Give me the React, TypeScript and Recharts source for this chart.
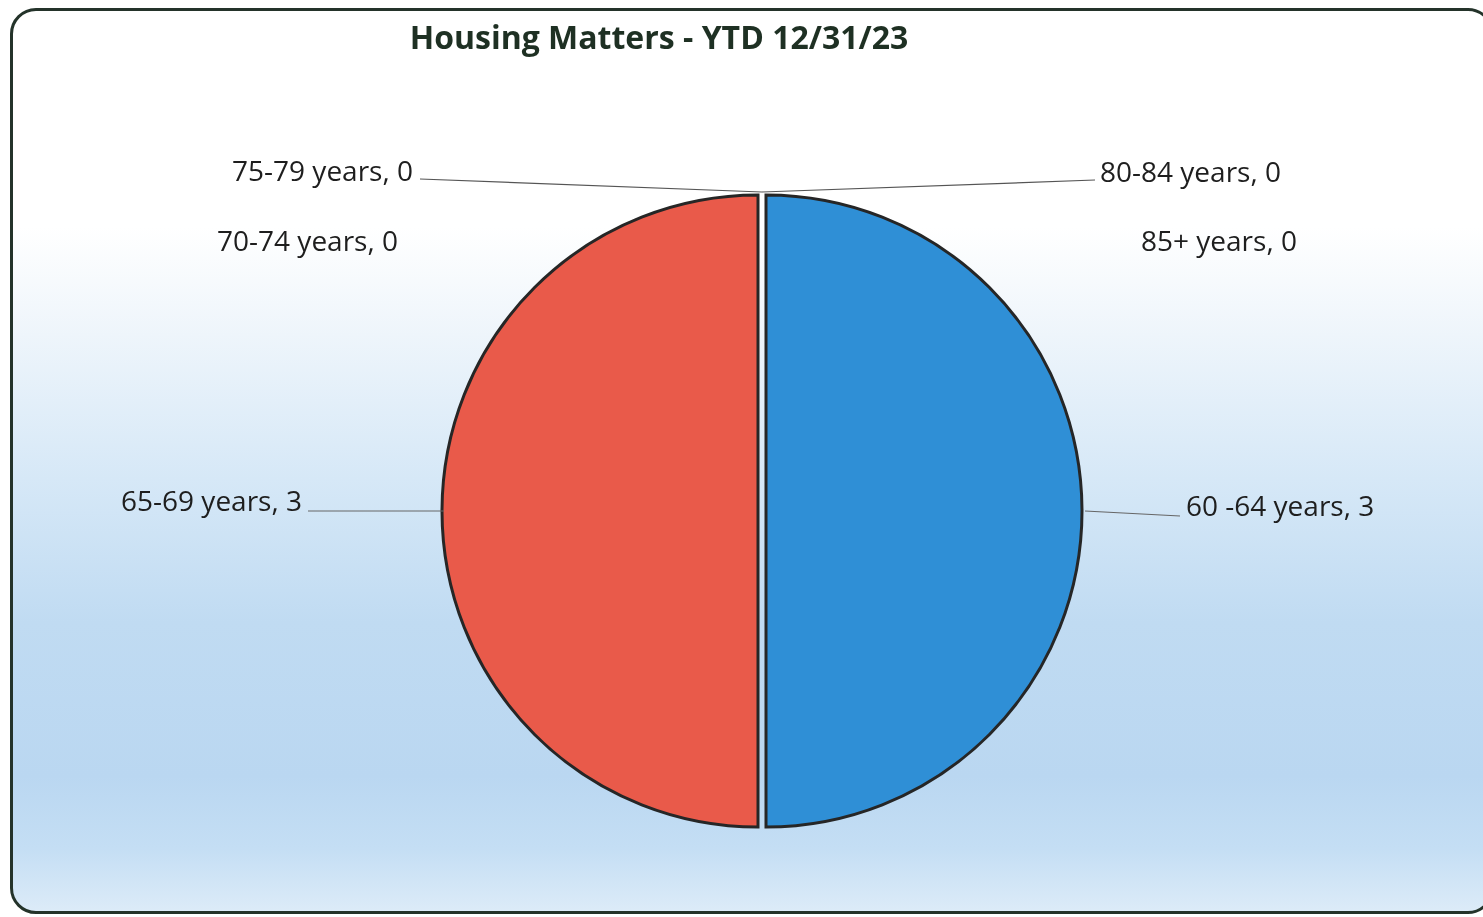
import React from "react";
import { PieChart, Pie, Cell, Sector } from "recharts";

const categories = ["60 -64 years", "65-69 years", "70-74 years", "75-79 years", "80-84 years", "85+ years"];
const values = [3, 3, 0, 0, 0, 0];
const colors = ["#2f8fd6", "#e95a4a", "#9bbb59", "#8064a2", "#4bacc6", "#f79646"];
const title = "Housing Matters - YTD 12/31/23";

const data = categories.map((name, i) => ({ name, value: values[i] }));

const W = 1483;
const H = 917;
const CX = 762;
const CY = 511;
const R = 316;
const FONT = "'Open Sans', 'Noto Sans', sans-serif";

// label placement relative to the slice anchor (rim point at midAngle)
const labelLayout: { dx: number; dy: number; anchor: "start" | "end"; leader: boolean }[] = [
  { dx: 108, dy: -6, anchor: "start", leader: true },
  { dx: -144, dy: -11, anchor: "end", leader: true },
  { dx: -364, dy: 45, anchor: "end", leader: false },
  { dx: -349, dy: -25, anchor: "end", leader: true },
  { dx: 338, dy: -24, anchor: "start", leader: true },
  { dx: 379, dy: 45, anchor: "start", leader: false },
];

const RAD = Math.PI / 180;

const renderLabel = (props: any) => {
  const { cx, cy, midAngle, outerRadius, index, name, value } = props;
  const ax = cx + outerRadius * Math.cos(-midAngle * RAD);
  const ay = cy + outerRadius * Math.sin(-midAngle * RAD);
  const L = labelLayout[index];
  const tx = ax + L.dx;
  const ty = ay + L.dy;
  let line = null;
  if (L.leader) {
    if (value === 0) {
      const ly = ay - 3;
      const lx = L.anchor === "end" ? tx + 7 : tx - 5;
      line = <line x1={lx} y1={ty + 9} x2={ax} y2={ly} stroke="#555" strokeWidth={1.2} />;
    } else {
      const lx = L.anchor === "end" ? tx + 6 : tx - 6;
      line = (
        <line
          x1={lx}
          y1={ty + 11}
          x2={ax + (L.anchor === "end" ? -2 : 7)}
          y2={ay}
          stroke="#666"
          strokeWidth={1.2}
        />
      );
    }
  }
  return (
    <g key={`lbl-${index}`}>
      {line}
      <text
        x={tx}
        y={ty}
        textAnchor={L.anchor}
        dominantBaseline="central"
        fill="#1e1e1e"
        fontSize={28}
        fontFamily={FONT}
      >
        {`${name}, ${value}`}
      </text>
    </g>
  );
};

const renderShape = (props: any) => {
  const off = 4;
  const mid = (props.startAngle + props.endAngle) / 2;
  const dx = off * Math.cos(-mid * RAD);
  const dy = off * Math.sin(-mid * RAD);
  return <Sector {...props} cx={props.cx + dx} cy={props.cy + dy} />;
};

export default function App() {
  return (
    <div style={{ position: "fixed", left: 0, top: 0, width: W, height: H, overflow: "hidden" }}>
      <div
        style={{
          position: "absolute",
          left: 10,
          top: 8,
          width: 1484,
          height: 906,
          boxSizing: "border-box",
          border: "3px solid #24332a",
          borderRadius: 26,
          background:
            "linear-gradient(to bottom, #ffffff 0%, #ffffff 24%, #eef5fb 36%, #d6e8f7 52%, #c0dbf2 68%, #bad7f1 85%, #c4def4 93%, #dcebf8 100%)",
        }}
      />
      <div
        style={{
          position: "absolute",
          left: 0,
          width: 1318,
          top: 16,
          textAlign: "center",
          fontFamily: FONT,
          fontWeight: 700,
          fontSize: 32,
          color: "#1e3023",
          lineHeight: "42px",
        }}
      >
        {title}
      </div>
      <div style={{ position: "absolute", left: 0, top: 0 }}>
        <PieChart width={W} height={H} margin={{ top: 0, right: 0, bottom: 0, left: 0 }}>
          <Pie
            data={data}
            dataKey="value"
            nameKey="name"
            cx={CX}
            cy={CY}
            outerRadius={R}
            startAngle={90}
            endAngle={-270}
            stroke="#262626"
            strokeWidth={3}
            label={renderLabel}
            labelLine={false}
            shape={renderShape}
            isAnimationActive={false}
          >
            {data.map((d, i) => (
              <Cell key={d.name} fill={colors[i]} />
            ))}
          </Pie>
        </PieChart>
      </div>
    </div>
  );
}
